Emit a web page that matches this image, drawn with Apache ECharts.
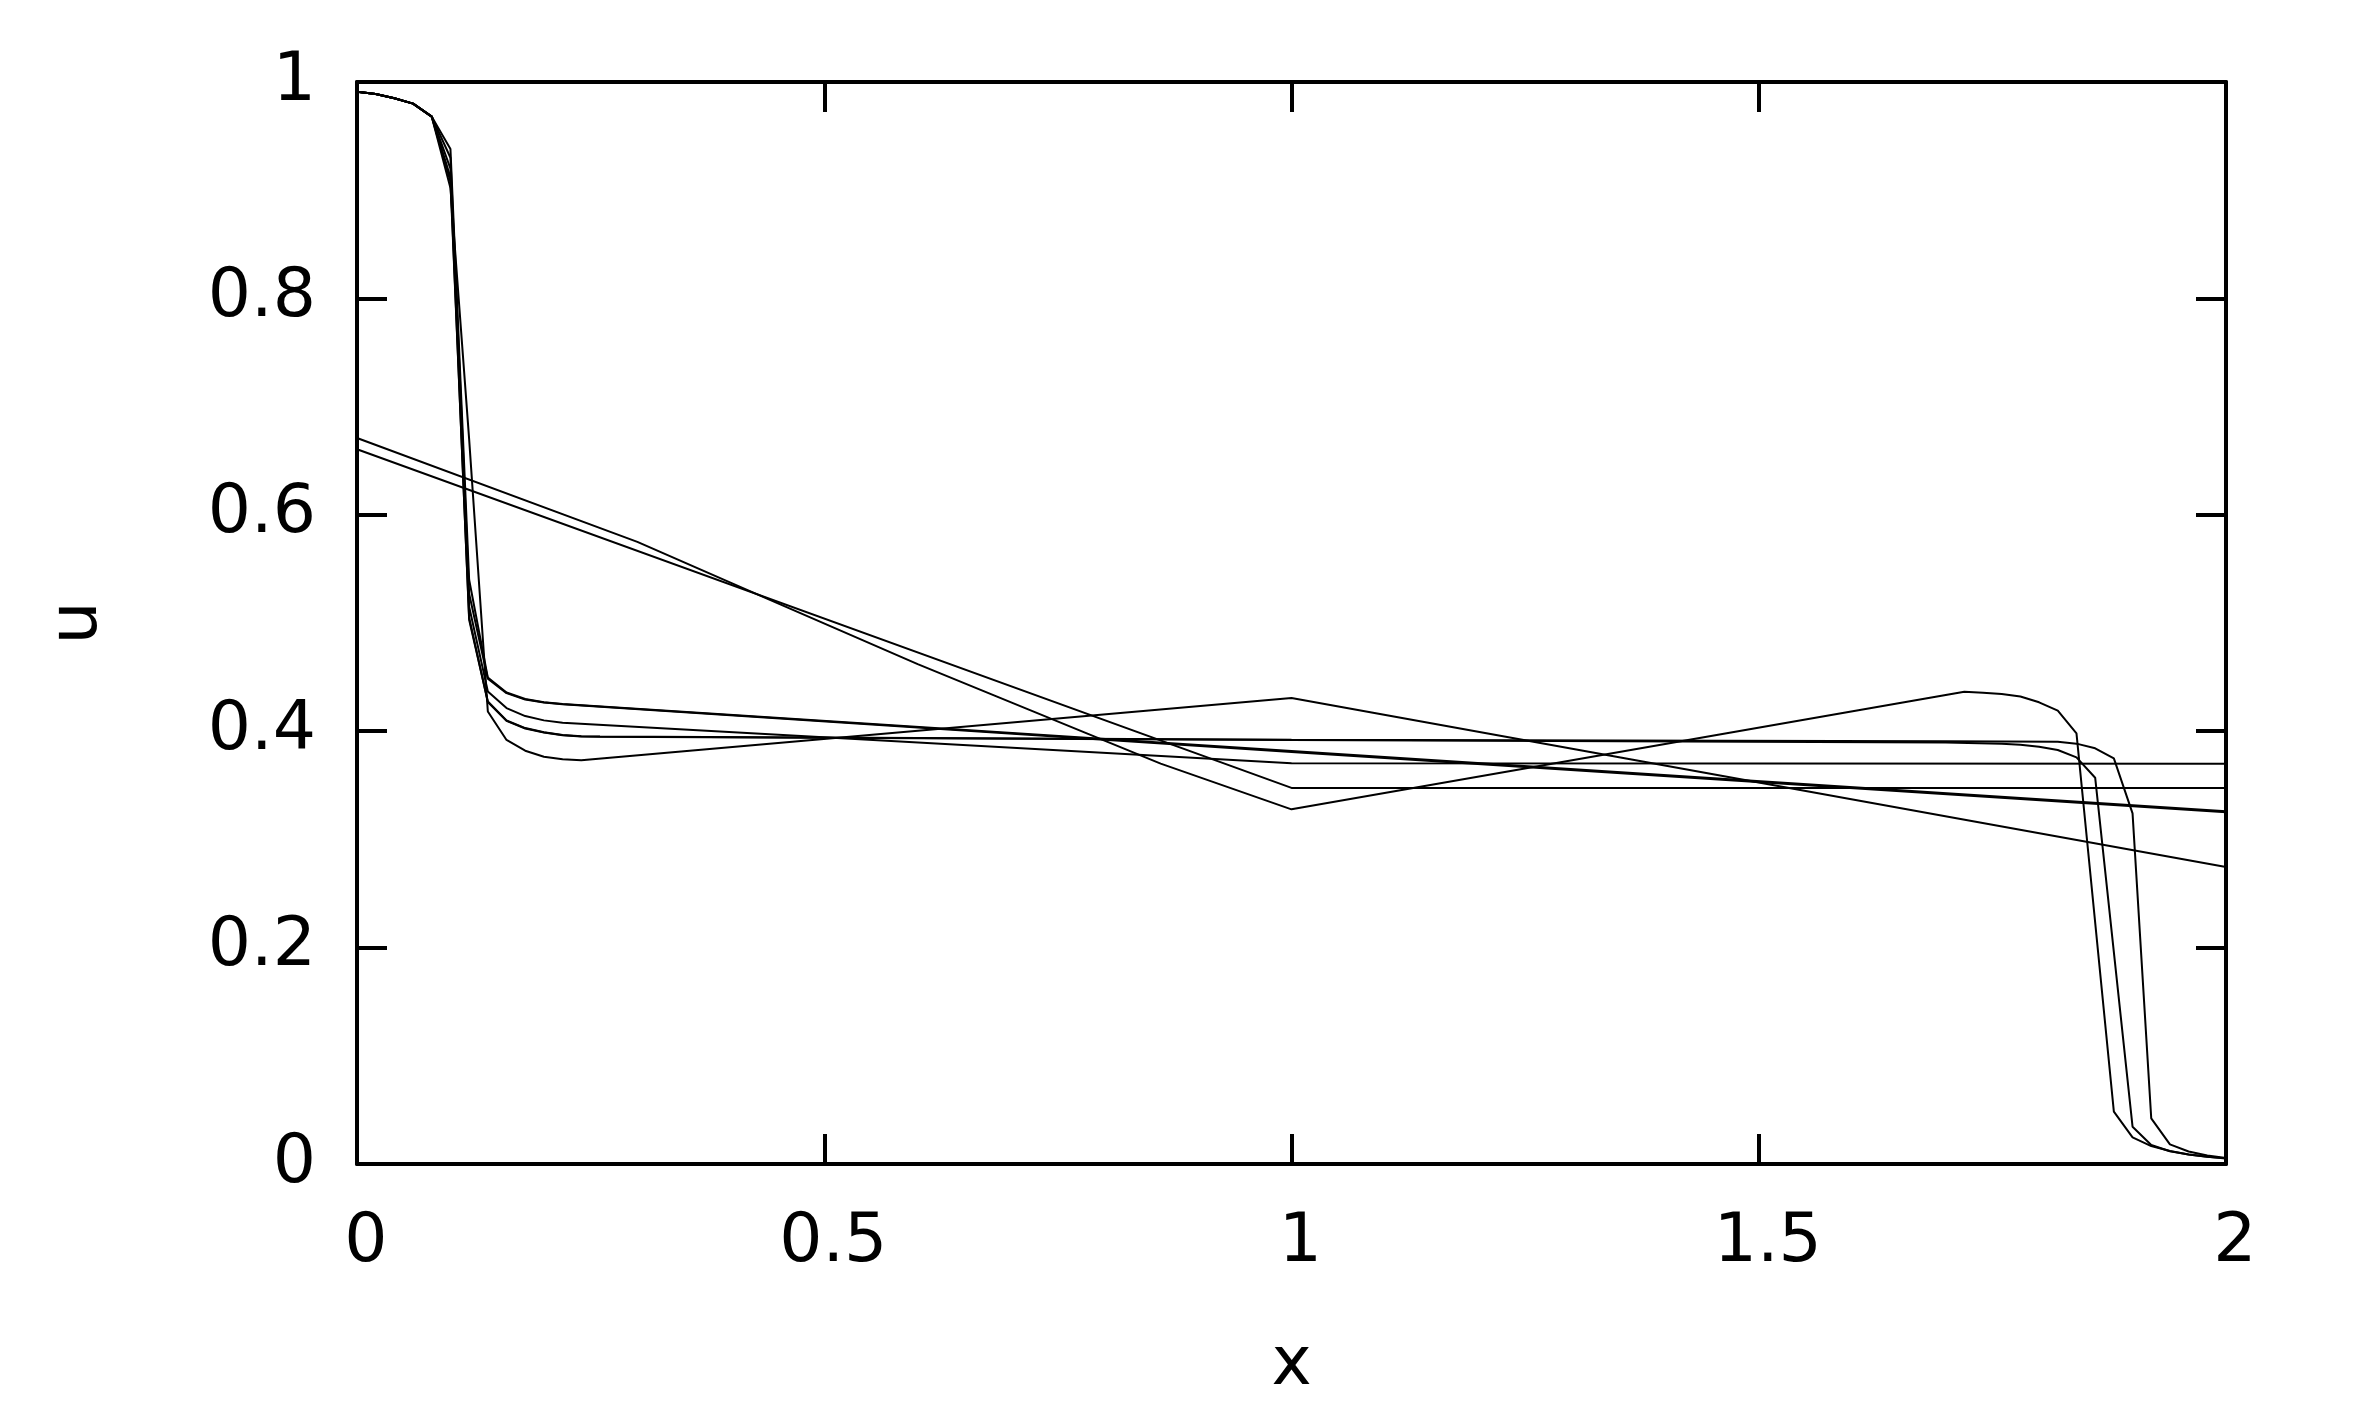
<!DOCTYPE html>
<html>
<head>
<meta charset="utf-8">
<script src="https://cdn.jsdelivr.net/npm/echarts@6/dist/echarts.min.js"></script>
<style>
html,body{margin:0;padding:0;background:#fff;}
#chart{width:2358px;height:1417px;}
</style>
</head>
<body>
<div id="chart"></div>
<script>
// Tick labels
const xTickLabels = ['0', '0.5', '1', '1.5', '2'];
const yTickLabels = ['0', '0.2', '0.4', '0.6', '0.8', '1'];

// Shared left shoulder (x, u)
const shoulderX = [0, 0.02, 0.04, 0.06, 0.08];
const shoulderU = [0.991, 0.989, 0.985, 0.980, 0.968];

// Curves (x, u)
const curveP1a = [[0.10,0.938],[0.12,0.540],[0.14,0.4495],[0.16,0.4358],[0.18,0.4297],[0.20,0.4268],[0.22,0.4252],[2.0,0.3260]];
const curveP1b = [[0.10,0.930],[0.12,0.527],[0.14,0.4485],[0.16,0.4352],[0.18,0.4292],[0.20,0.4265],[0.22,0.4248],[1.0,0.3808],[2.0,0.3252]];
const curveB = [[0.10,0.920],[0.12,0.515],[0.14,0.4368],[0.16,0.4214],[0.18,0.4140],[0.20,0.4100],[0.22,0.4079],[1.0,0.3703],[2.0,0.3700]];
const curveP3a = [[0.10,0.912],[0.12,0.503],[0.14,0.4275],[0.16,0.4099],[0.18,0.4029],[0.20,0.3990],[0.22,0.3965],[0.24,0.3953],[0.26,0.3950],[1.0,0.3920],[1.70,0.3908],[1.82,0.3903],[1.84,0.3885],[1.86,0.3842],[1.88,0.3749],[1.90,0.3241],[1.92,0.0422],[1.94,0.0182],[1.96,0.0115],[1.98,0.0078],[2.0,0.0055]];
const curveP3b = [[0.10,0.908],[0.12,0.505],[0.14,0.4270],[0.16,0.4095],[0.18,0.4025],[0.20,0.3988],[0.22,0.3963],[0.24,0.3952],[0.26,0.3948],[1.0,0.3918],[1.70,0.3895],[1.76,0.3885],[1.78,0.3874],[1.80,0.3857],[1.82,0.3826],[1.84,0.3758],[1.86,0.3570],[1.90,0.0345],[1.92,0.0176],[1.94,0.0118],[1.96,0.0088],[1.98,0.0068],[2.0,0.0052]];
const curveC = [[0.10,0.902],[0.12,0.670],[0.14,0.4182],[0.16,0.3919],[0.18,0.3820],[0.20,0.3764],[0.22,0.3740],[0.24,0.3731],[1.0,0.4307],[2.0,0.2745]];
const line1 = [[0,0.6606],[1.0,0.3476],[2.0,0.3476]];
const line2 = [[0,0.671],[0.30,0.575],[0.44,0.522],[0.60,0.462],[0.86,0.370],[1.0,0.3278],[1.72,0.4365],[1.74,0.4356],[1.76,0.4344],[1.78,0.4320],[1.80,0.4267],[1.82,0.4190],[1.84,0.3980],[1.88,0.0484],[1.90,0.0246],[1.92,0.0166],[1.94,0.0120],[1.96,0.0088],[1.98,0.0066],[2.0,0.0050]];

const shoulder = shoulderX.map((x, i) => [x, shoulderU[i]]);
const withShoulder = c => shoulder.concat(c);

const allCurves = [
  withShoulder(curveP1a), withShoulder(curveP1b), withShoulder(curveB),
  withShoulder(curveP3a), withShoulder(curveP3b), withShoulder(curveC),
  line1, line2
];

const FONT = 'DejaVu Sans';
const axisLineStyle = {show: true, onZero: false, lineStyle: {color: '#000', width: 4}};
const tickStyle = {show: true, inside: true, length: 30, lineStyle: {color: '#000', width: 4}};

const chart = echarts.init(document.getElementById('chart'), null, {renderer: 'canvas'});
chart.setOption({
  animation: false,
  backgroundColor: '#fff',
  grid: {left: 357, right: 132, top: 82, bottom: 253, containLabel: false},
  xAxis: [
    {
      type: 'value', min: 0, max: 2, interval: 0.5, position: 'bottom',
      name: 'x', nameLocation: 'middle', nameGap: 168,
      nameTextStyle: {fontFamily: FONT, fontSize: 68, color: '#000'},
      axisLine: axisLineStyle, axisTick: tickStyle, splitLine: {show: false},
      axisLabel: {
        fontFamily: FONT, fontSize: 68, color: '#000', margin: 45,
        padding: [0, 0, 0, 18],
        formatter: v => xTickLabels[Math.round(v / 0.5)]
      }
    },
    {
      type: 'value', min: 0, max: 2, interval: 0.5, position: 'top',
      axisLine: axisLineStyle, axisTick: tickStyle, splitLine: {show: false},
      axisLabel: {show: false}
    }
  ],
  yAxis: [
    {
      type: 'value', min: 0, max: 1, interval: 0.2, position: 'left',
      name: 'u', nameLocation: 'middle', nameGap: 245, nameRotate: 90,
      nameTextStyle: {fontFamily: FONT, fontSize: 68, color: '#000'},
      axisLine: axisLineStyle, axisTick: tickStyle, splitLine: {show: false},
      axisLabel: {
        fontFamily: FONT, fontSize: 68, color: '#000', margin: 41,
        formatter: v => yTickLabels[Math.round(v / 0.2)]
      }
    },
    {
      type: 'value', min: 0, max: 1, interval: 0.2, position: 'right',
      axisLine: axisLineStyle, axisTick: tickStyle, splitLine: {show: false},
      axisLabel: {show: false}
    }
  ],
  series: allCurves.map(d => ({
    type: 'line', data: d, xAxisIndex: 0, yAxisIndex: 0,
    showSymbol: false, symbol: 'none', clip: true,
    lineStyle: {color: '#000', width: 2},
    emphasis: {disabled: true}
  }))
});
</script>
</body>
</html>
